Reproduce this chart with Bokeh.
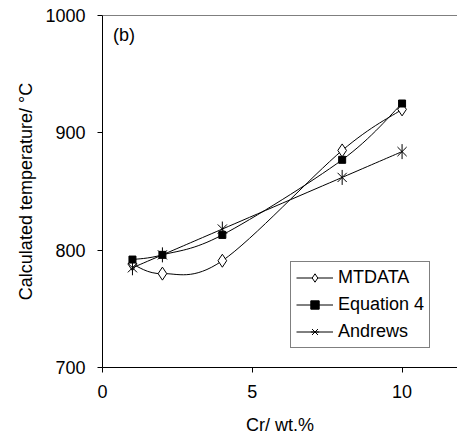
import numpy as np
from bokeh.plotting import figure
from bokeh.models import Legend, LegendItem, Span, Label, ColumnDataSource, FixedTicker, Range1d
from bokeh.embed import file_html
from bokeh.resources import INLINE

cr = [1, 2, 4, 8, 10]
mtdata = [788, 780, 791, 885, 920]
equation4 = [792, 796, 813, 877, 925]
andrews = [785, 796, 818, 862, 884]
x_ticks = [0, 5, 10]
y_ticks = [700, 800, 900, 1000]

FONT = "Liberation Sans"
FS = "18px"

p = figure(width=457, height=441, output_backend="svg", toolbar_location=None,
           x_range=Range1d(0, 11.85), y_range=Range1d(700, 1000),
           min_border_left=102, min_border_right=0, min_border_top=15, min_border_bottom=74)
p.outline_line_color = None
p.xgrid.visible = False
p.ygrid.visible = False
p.background_fill_color = "white"
p.border_fill_color = "white"

for ax in (p.xaxis[0], p.yaxis[0]):
    ax.axis_line_color = "black"
    ax.major_tick_line_color = "black"
    ax.minor_tick_line_color = None
    ax.major_tick_in = 0
    ax.major_tick_out = 5
    ax.major_label_text_font = FONT
    ax.major_label_text_font_size = FS
    ax.major_label_text_color = "black"
    ax.axis_label_text_font = FONT
    ax.axis_label_text_font_size = FS
    ax.axis_label_text_font_style = "normal"
    ax.axis_label_text_color = "black"
    ax.major_label_standoff = 12

p.xaxis[0].major_label_standoff = 12
p.xaxis[0].ticker = FixedTicker(ticks=x_ticks)
p.yaxis[0].ticker = FixedTicker(ticks=y_ticks)
p.xaxis[0].axis_label = "Cr/ wt.%"
p.yaxis[0].axis_label = "Calculated temperature/ °C"
p.xaxis[0].axis_label_standoff = 14
p.yaxis[0].axis_label_standoff = 6

p.add_layout(Span(location=1000, dimension="width", line_color="black", line_width=1))


def smooth_source(xs, ys):
    xs = np.asarray(xs, float)
    ys = np.asarray(ys, float)
    n = len(xs)
    d = dict(x0=[], y0=[], x1=[], y1=[], cx0=[], cy0=[], cx1=[], cy1=[])
    for i in range(n - 1):
        im1 = max(i - 1, 0)
        ip2 = min(i + 2, n - 1)
        d["x0"].append(xs[i]); d["y0"].append(ys[i])
        d["x1"].append(xs[i + 1]); d["y1"].append(ys[i + 1])
        d["cx0"].append(xs[i] + (xs[i + 1] - xs[im1]) / 6)
        d["cy0"].append(ys[i] + (ys[i + 1] - ys[im1]) / 6)
        d["cx1"].append(xs[i + 1] - (xs[ip2] - xs[i]) / 6)
        d["cy1"].append(ys[i + 1] - (ys[ip2] - ys[i]) / 6)
    return ColumnDataSource(d)


items = []

# MTDATA
b1 = p.bezier(x0="x0", y0="y0", x1="x1", y1="y1", cx0="cx0", cy0="cy0", cx1="cx1", cy1="cy1",
              source=smooth_source(cr, mtdata), line_color="black", line_width=1)
s1 = p.scatter(cr, mtdata, marker="diamond", size=13,
               fill_color="white", line_color="black", line_width=1)
items.append(LegendItem(label="MTDATA", renderers=[b1, s1]))

# Equation 4
b2 = p.bezier(x0="x0", y0="y0", x1="x1", y1="y1", cx0="cx0", cy0="cy0", cx1="cx1", cy1="cy1",
              source=smooth_source(cr, equation4), line_color="black", line_width=1)
s2 = p.scatter(cr, equation4, marker="square", size=7, fill_color="black", line_color="black")
items.append(LegendItem(label="Equation 4", renderers=[b2, s2]))

# Andrews
b3 = p.bezier(x0="x0", y0="y0", x1="x1", y1="y1", cx0="cx0", cy0="cy0", cx1="cx1", cy1="cy1",
              source=smooth_source(cr, andrews), line_color="black", line_width=1)
s3 = p.scatter(cr, andrews, marker="x", size=13, line_color="black", line_width=1)
s3b = p.scatter(cr, andrews, marker="dash", angle=np.pi / 2, size=15, line_color="black", line_width=1)
items.append(LegendItem(label="Andrews", renderers=[b3, s3, s3b]))

legend = Legend(items=items, location=(188, 19), border_line_color="black", border_line_width=1,
                background_fill_color="white", background_fill_alpha=1,
                label_text_font=FONT, label_text_font_size=FS, label_text_color="black",
                glyph_width=37, glyph_height=21, label_height=21, spacing=6, padding=5,
                label_standoff=5, margin=0)
p.add_layout(legend, "center")

p.add_layout(Label(x=0.35, y=983, text="(b)", text_font=FONT, text_font_size=FS,
                   text_baseline="middle", text_color="black"))

open("out.html", "w").write(file_html(p, INLINE))
